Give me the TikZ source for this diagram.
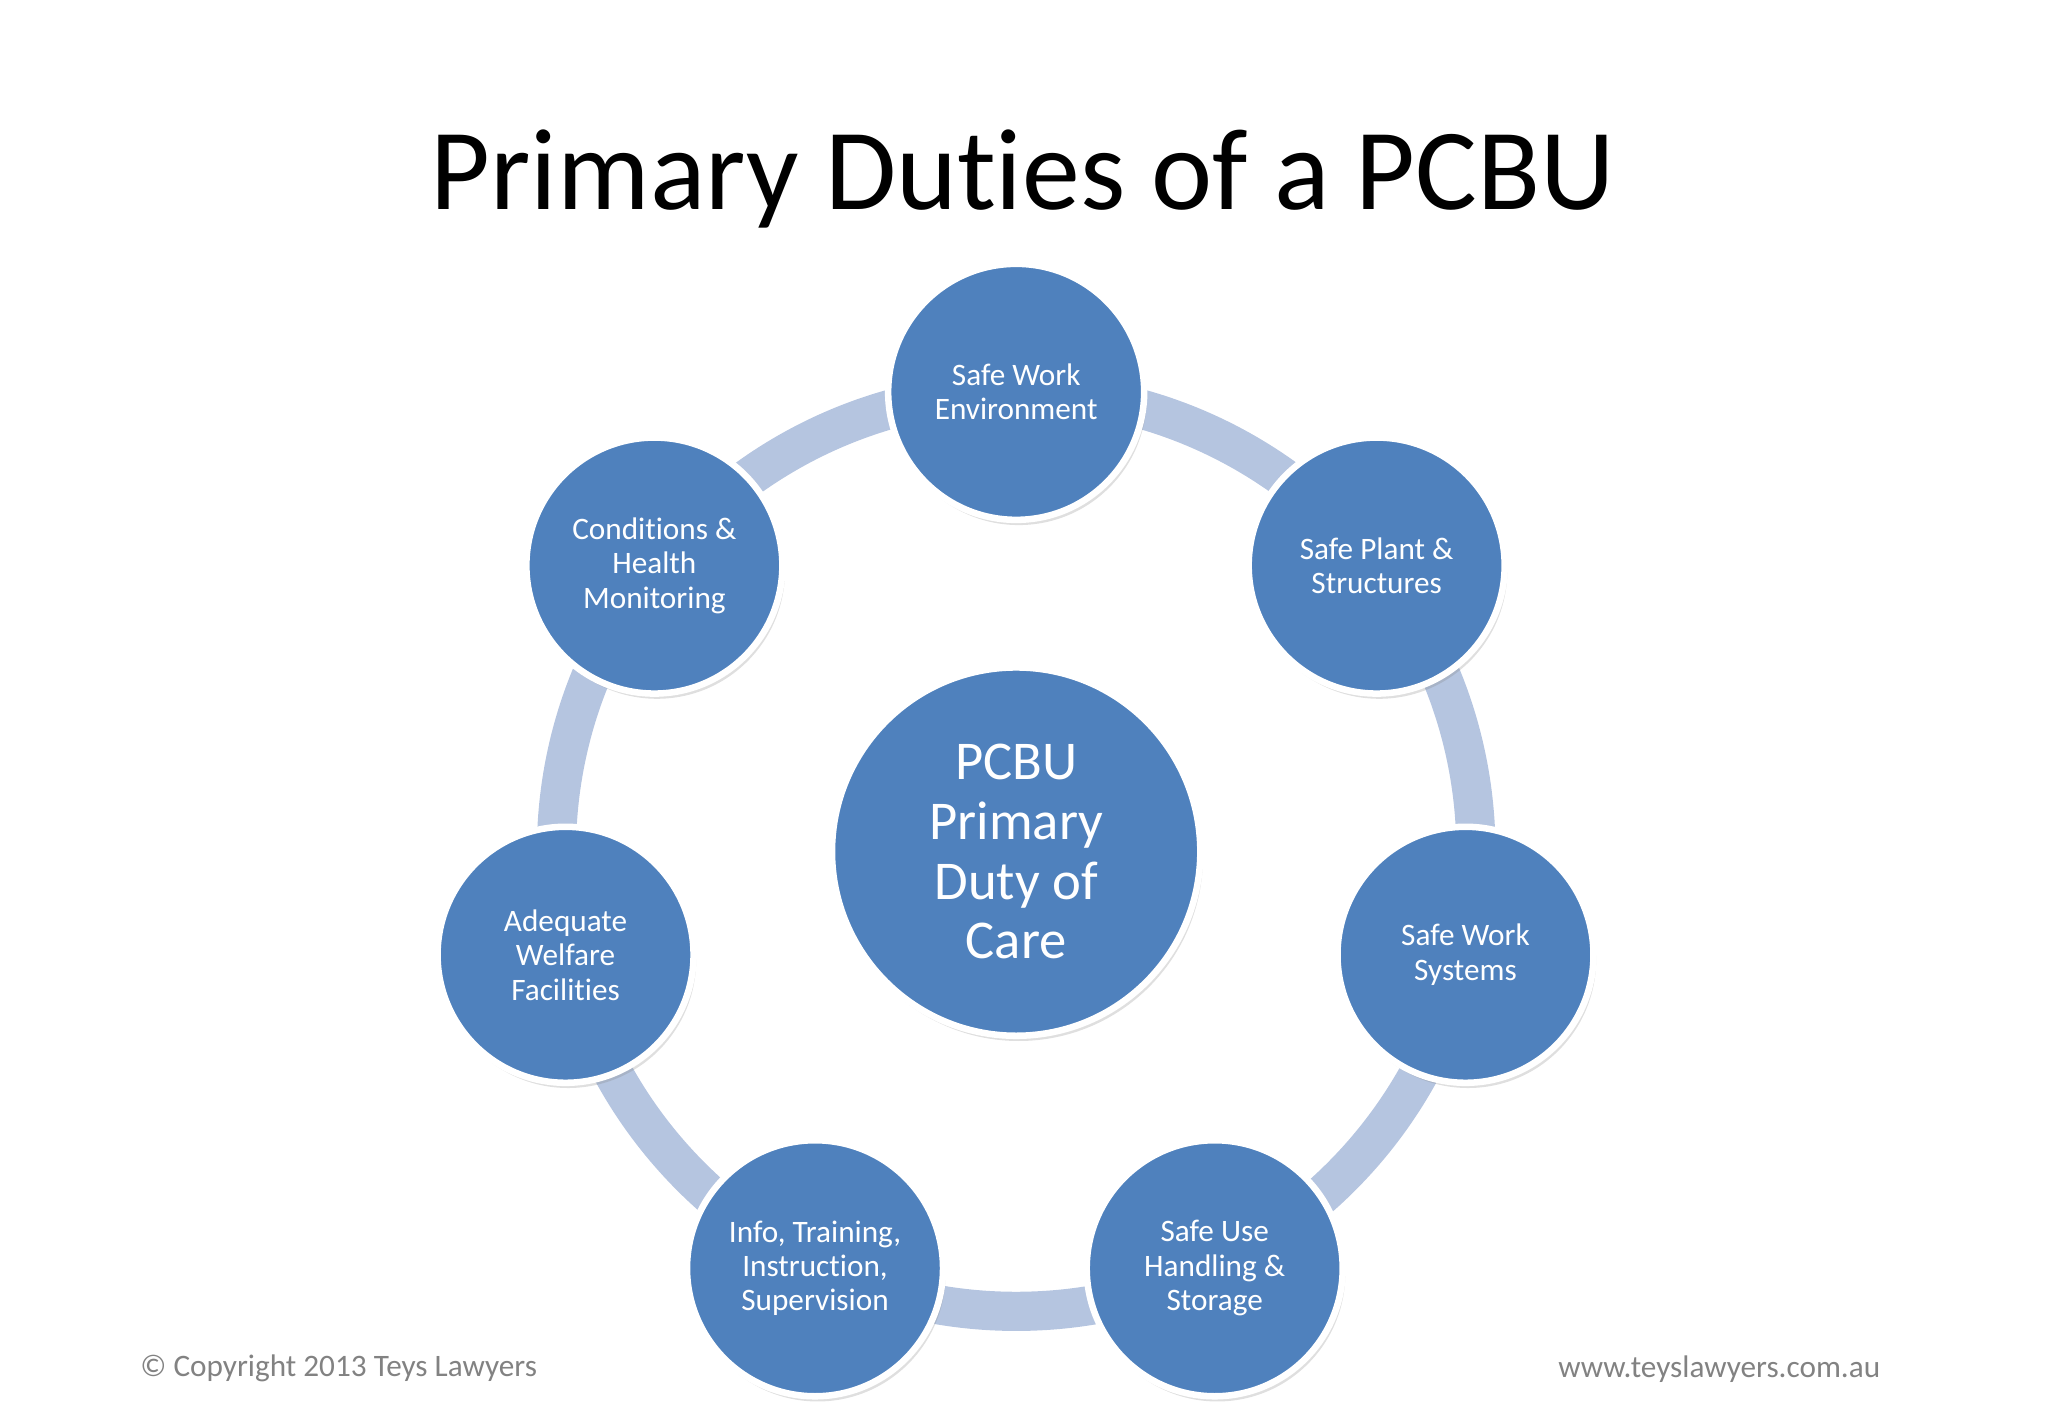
\documentclass[tikz,border=0pt]{standalone}
\usepackage{fontspec}
\setmainfont[Ligatures={NoCommon}]{Carlito}
\usetikzlibrary{shadows}
\definecolor{cfill}{RGB}{79,129,189}
\definecolor{ring}{RGB}{181,197,224}
\definecolor{grey}{RGB}{130,130,130}
\begin{document}
\begin{tikzpicture}[x=1bp,y=-1bp,
  duty/.style={circle,fill=cfill,draw=white,line width=5bp,minimum size=196bp,inner sep=0pt,
    text=white,align=center,font=\fontsize{24}{26.5}\selectfont,
    drop shadow={shadow xshift=2bp,shadow yshift=-4bp,opacity=0.25}},
  hub/.style={duty,minimum size=282bp,font=\fontsize{42}{46}\selectfont}]
\useasboundingbox (0,0) rectangle (1568,1086);
\node[font=\fontsize{89}{95}\selectfont] (title) at (783,137) {Primary Duties of a PCBU};
\draw[ring,line width=30bp] (778,652) circle (352);
\node[hub] (c) at (778,652) {PCBU\\Primary\\Duty of\\Care};
\node[duty] (a) at (778,300) {Safe Work\\Environment};
\node[duty] (b) at (1054,433) {Safe Plant \&\\Structures};
\node[duty] (d) at (1122,731) {Safe Work\\Systems};
\node[duty] (e) at (930,971) {Safe Use\\Handling \&\\Storage};
\node[duty] (f) at (624,971) {Info, Training,\\Instruction,\\Supervision};
\node[duty] (g) at (433,731) {Adequate\\Welfare\\Facilities};
\node[duty] (h) at (501,433) {Conditions \&\\Health\\Monitoring};
\node[text=grey,font=\fontsize{24}{26}\selectfont,anchor=west] (cp) at (104,1048) {© Copyright 2013 Teys Lawyers};
\node[text=grey,font=\fontsize{24}{26}\selectfont,anchor=east] (www) at (1443,1048) {www.teyslawyers.com.au};
\end{tikzpicture}
\end{document}
